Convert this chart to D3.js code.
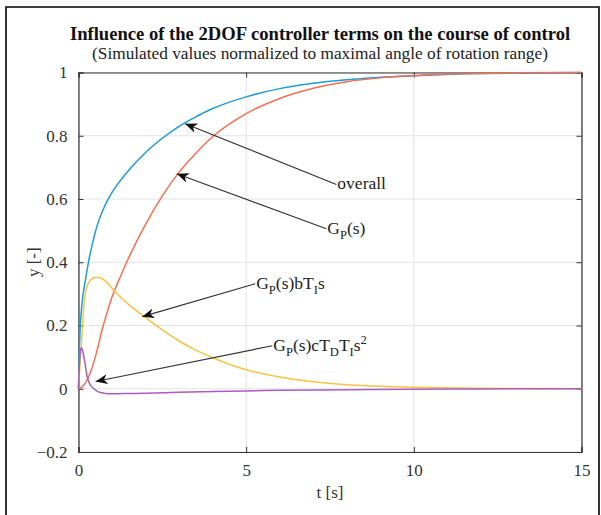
<!DOCTYPE html>
<html><head><meta charset="utf-8">
<script src="https://cdn.jsdelivr.net/npm/d3@7"></script>
<style>body{margin:0;background:#fff}svg{display:block}text{font-family:"Liberation Serif","Times New Roman",serif}</style>
</head><body><svg id="c" width="601" height="515"></svg>
<script>
// ---- data ----
const tOverall = [0,0.02,0.05,0.1,0.2,0.3,0.4,0.5,0.6,0.8,1.0,1.24,1.5,2,2.5,3,3.5,4,5,6,7,8,9,10,12,15];
const yOverall = [0,0.1,0.19,0.265,0.34,0.402,0.452,0.495,0.53,0.582,0.621,0.657,0.691,0.747,0.792,0.83,0.86,0.886,0.923,0.949,0.966,0.977,0.985,0.99,0.997,1];
const tGp = [0,0.1,0.2,0.3,0.4,0.5,0.6,0.7,0.8,1.0,1.25,1.5,2,2.5,3,3.5,4,5,6,7,8,9,10,11,12,13,15];
const yGp = [0,0.005,0.018,0.038,0.065,0.1,0.14,0.185,0.222,0.29,0.355,0.415,0.52,0.61,0.685,0.745,0.797,0.87,0.918,0.95,0.971,0.983,0.99,0.995,0.997,0.999,1];
const tBTi = [0,0.05,0.1,0.15,0.2,0.3,0.4,0.5,0.6,0.7,0.8,1.0,1.25,1.5,2,2.5,3,3.5,4,5,6,7,8,9,10,12,15];
const yBTi = [0,0.09,0.16,0.25,0.3,0.335,0.348,0.352,0.352,0.348,0.341,0.318,0.29,0.266,0.225,0.186,0.151,0.122,0.098,0.06,0.037,0.022,0.013,0.008,0.005,0.0015,0];
const tCTdTi = [0,0.02,0.05,0.085,0.12,0.18,0.26,0.35,0.46,0.6,0.76,1.0,1.5,2,3,4,5,6,8,10,12,15];
const yCTdTi = [0,0.06,0.112,0.13,0.122,0.09,0.038,0.012,0,-0.01,-0.014,-0.016,-0.015,-0.014,-0.011,-0.009,-0.007,-0.005,-0.003,-0.0015,-0.0005,0];
const xTicks = [0,5,10,15];
const yTicks = [-0.2,0,0.2,0.4,0.6,0.8,1];
// annotations: arrow tip (t,y) and label anchor (t,y), in data units
const annTipT = [3.18,2.93,1.9,0.51];
const annTipY = [0.838,0.68,0.228,0.023];
const annTxtT = [7.69,7.39,5.27,5.78];
const annTxtY = [0.646,0.506,0.332,0.136];

// ---- layout ----
const svg = d3.select("#c");
const L=78.5, R=581.5, T=72.5, B=452;
const x = d3.scaleLinear().domain([0,15]).range([L,R]);
const y = d3.scaleLinear().domain([-0.2,1]).range([B,T]);
const colors = {overall:"#1b9cd9", Gp:"#fb6e4c", bTi:"#fbc33e", cTdTi:"#a95cc2"};

// outer frame
svg.append("path").attr("d","M6,515 L6,7 L599,7 L599,515").attr("fill","none").attr("stroke","#000").attr("stroke-width",1.6);

// grid
const g = svg.append("g");
g.selectAll("line.gx").data(xTicks).join("line").attr("x1",d=>x(d)).attr("x2",d=>x(d)).attr("y1",T).attr("y2",B).attr("stroke","#e3e3e3").attr("stroke-width",1);
g.selectAll("line.gy").data(yTicks).join("line").attr("y1",d=>y(d)).attr("y2",d=>y(d)).attr("x1",L).attr("x2",R).attr("stroke","#e3e3e3").attr("stroke-width",1);

// axes
const axB = d3.axisBottom(x).tickValues(xTicks).tickSize(-5).tickPadding(12).tickFormat(d3.format("d"));
const axL = d3.axisLeft(y).tickValues(yTicks).tickSize(-5).tickPadding(11).tickFormat(d=>d===0?"0":(d===1?"1":d3.format(".1f")(d)));
const axT = d3.axisTop(x).tickValues(xTicks).tickSize(-5).tickFormat("");
const axR = d3.axisRight(y).tickValues(yTicks).tickSize(-5).tickFormat("");
function style(sel){sel.select(".domain").attr("stroke","#333").attr("stroke-width",1.2);
  sel.selectAll(".tick line").attr("stroke","#333");
  sel.selectAll(".tick text").attr("font-family","Liberation Serif").attr("font-size",17).attr("fill","#333");}
svg.append("g").attr("transform",`translate(0,${B})`).call(axB).call(style);
svg.append("g").attr("transform",`translate(${L},0)`).call(axL).call(style);
svg.append("g").attr("transform",`translate(0,${T})`).call(axT).call(style);
svg.append("g").attr("transform",`translate(${R},0)`).call(axR).call(style);

// lines
const series = [
  {name:"overall", t:tOverall, v:yOverall},
  {name:"Gp", t:tGp, v:yGp},
  {name:"bTi", t:tBTi, v:yBTi},
  {name:"cTdTi", t:tCTdTi, v:yCTdTi}
];
const line = d3.line().x(d=>x(d[0])).y(d=>y(d[1])).curve(d3.curveMonotoneX);
series.forEach(s=>{
  svg.append("path").datum(s.t.map((t,i)=>[t,s.v[i]])).attr("d",line)
    .attr("fill","none").attr("stroke",colors[s.name]).attr("stroke-width",1.5);
});

// annotations
const defs = svg.append("defs");
defs.append("marker").attr("id","ah").attr("viewBox","0 0 12 10").attr("refX",12).attr("refY",5)
  .attr("markerWidth",12).attr("markerHeight",10).attr("markerUnits","userSpaceOnUse").attr("orient","auto")
  .append("path").attr("d","M0,0 L12,5 L0,10 L3.5,5 Z").attr("fill","#111");
annTipT.forEach((tt,i)=>{
  svg.append("line").attr("x1",x(annTxtT[i])).attr("y1",y(annTxtY[i])).attr("x2",x(tt)).attr("y2",y(annTipY[i]))
    .attr("stroke","#333").attr("stroke-width",1.2).attr("marker-end","url(#ah)");
});
function label(i, parts){
  const t = svg.append("text").attr("x",x(annTxtT[i])+1).attr("y",y(annTxtY[i])+5).attr("font-size",17.5).attr("fill","#222");
  let cur=0;
  parts.forEach(p=>{
    const shift = p[1]; // 0 normal, 1 sub, -1 sup
    const target = shift===1?5:(shift===-1?-7:0);
    t.append("tspan").attr("dy",target-cur).attr("font-size",shift?12.5:17.5).text(p[0]);
    cur=target;
  });
}
label(0,[["overall",0]]);
label(1,[["G",0],["P",1],["(s)",0]]);
label(2,[["G",0],["P",1],["(s)bT",0],["I",1],["s",0]]);
label(3,[["G",0],["P",1],["(s)cT",0],["D",1],["T",0],["I",1],["s",0],["2",-1]]);

// titles
svg.append("text").attr("x",320).attr("y",40).attr("text-anchor","middle").attr("font-size",18.6).attr("font-weight","bold").attr("fill","#111")
  .text("Influence of the 2DOF controller terms on the course of control");
svg.append("text").attr("x",320).attr("y",59).attr("text-anchor","middle").attr("font-size",17.3).attr("fill","#222")
  .text("(Simulated values normalized to maximal angle of rotation range)");
svg.append("text").attr("x",330).attr("y",498).attr("text-anchor","middle").attr("font-size",17).attr("fill","#333").text("t [s]");
svg.append("text").attr("transform",`translate(39,${(T+B)/2}) rotate(-90)`).attr("text-anchor","middle").attr("font-size",17).attr("fill","#333").text("y [-]");
</script></body></html>
